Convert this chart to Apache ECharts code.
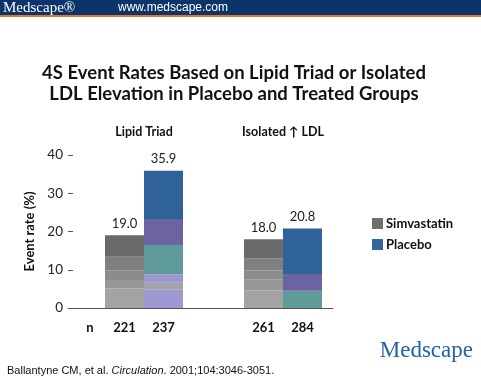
<!DOCTYPE html>
<html><head><meta charset="utf-8">
<script src="https://cdn.jsdelivr.net/npm/echarts@6/dist/echarts.min.js"></script>
<style>html,body{margin:0;padding:0;background:#fff}#c{width:481px;height:379px}</style>
</head><body><div id="c"></div>
<script>
const categories = ['Lipid Triad', 'Isolated \u2191 LDL'];
const simvTotals = [19.0, 18.0];
const placeboTotals = [35.9, 20.8];
const nSimv = [221, 261];
const nPlacebo = [237, 284];
const yTicks = [0, 10, 20, 30, 40];
// stacked colour bands, bottom to top, per group
const simvSegLipid = [5.1, 2.2, 2.6, 3.5, 5.6];
const simvSegLDL = [4.6, 2.9, 2.3, 3.2, 5.0];
const simvColors = ['#a3a3a3', '#979797', '#8c8c8c', '#808080', '#6a6a6a'];
const placSegLipid = [4.8, 1.8, 2.2, 7.7, 6.8, 12.6];
const placSegLDL = [4.5, 4.4, 0, 0, 0, 11.9];
const placColorsLipid = ['#9c98d2', '#a3a1ab', '#9d97d0', '#5f9c99', '#6b64a1', '#2f6298'];
const placColorsLDL = ['#5f9c99', '#6b64a1', '#6b64a1', '#6b64a1', '#6b64a1', '#2f6298'];

const font = 'Lato';
const series = [];
function addStack(name, stack, segA, segB, colA, colB, totals, ns) {
  segA.forEach((v, i) => {
    const last = i === segA.length - 1;
    const s = {
      name, type: 'bar', stack, xAxisIndex: 0, yAxisIndex: 0,
      barWidth: 39, barGap: '0%',
      data: [
        { value: segA[i], itemStyle: { color: colA[i] } },
        { value: segB[i], itemStyle: { color: colB[i] } }
      ],
      emphasis: { disabled: true }
    };
    if (last) {
      s.label = { show: true, position: 'top', distance: 5, fontFamily: font, fontSize: 13, color: '#222',
        formatter: p => totals[p.dataIndex].toFixed(1) };
    }
    if (i === 0) {
      s.label = { show: true, position: 'bottom', distance: 13, fontFamily: font, fontSize: 13, fontWeight: 'bold', color: '#111',
        formatter: p => String(ns[p.dataIndex]) };
    }
    series.push(s);
  });
}
addStack('Simvastatin', 'simv', simvSegLipid, simvSegLDL, simvColors, simvColors, simvTotals, nSimv);
addStack('Placebo', 'plac', placSegLipid, placSegLDL, placColorsLipid, placColorsLDL, placeboTotals, nPlacebo);
// axis-only series for grid 1
series.push({ type: 'line', xAxisIndex: 1, yAxisIndex: 1, data: [], silent: true });

const chart = echarts.init(document.getElementById('c'), null, { renderer: 'canvas' });
chart.setOption({
  animation: false,
  backgroundColor: '#fff',
  grid: [
    { left: 74.5, width: 278, top: 155, height: 153 },
    { left: 68, width: 265, top: 155, height: 153 }
  ],
  xAxis: [
    { type: 'category', gridIndex: 0, data: categories, position: 'top',
      axisLine: { show: false }, axisTick: { show: false },
      axisLabel: { margin: 17, fontFamily: font, fontSize: 12.5, fontWeight: 'bold', color: '#111' } },
    { type: 'value', gridIndex: 1, min: 0, max: 1, position: 'bottom',
      axisLine: { show: true, lineStyle: { color: '#555', width: 1 } },
      axisTick: { show: false }, axisLabel: { show: false }, splitLine: { show: false } }
  ],
  yAxis: [
    { type: 'value', gridIndex: 0, min: 0, max: 40, show: false },
    { type: 'value', gridIndex: 1, min: yTicks[0], max: yTicks[yTicks.length - 1], interval: 10,
      axisLine: { show: false },
      axisTick: { show: true, inside: true, length: 5, lineStyle: { color: '#555' } },
      splitLine: { show: false },
      axisLabel: { margin: 5, fontFamily: font, fontSize: 13.5, color: '#222' },
      name: 'Event rate (%)', nameLocation: 'middle', nameGap: 19,
      nameTextStyle: { fontFamily: font, fontSize: 13, fontWeight: 'bold', color: '#111' } }
  ],
  legend: {
    orient: 'vertical', left: 367, top: 212, itemWidth: 11, itemHeight: 11, itemGap: 8,
    icon: 'rect', selectedMode: false,
    textStyle: { fontFamily: font, fontSize: 13, fontWeight: 'bold', color: '#111', padding: [0, 0, 0, -2] },
    data: [
      { name: 'Simvastatin', itemStyle: { color: '#6e6e6e' } },
      { name: 'Placebo', itemStyle: { color: '#3465a0' } }
    ]
  },
  graphic: [
    { type: 'rect', shape: { x: 0, y: 0, width: 481, height: 15 }, style: { fill: '#0b346b' }, silent: true },
    { type: 'rect', shape: { x: 0, y: 15, width: 481, height: 2 }, style: { fill: '#e2772a' }, silent: true },
    { type: 'text', x: 3, y: 8, style: { text: 'Medscape\u00ae', fill: '#fff', font: '15px "Liberation Serif"', verticalAlign: 'middle' } },
    { type: 'text', x: 118, y: 8, style: { text: 'www.medscape.com', fill: '#fff', font: '12px "Liberation Sans"', verticalAlign: 'middle' } },
    { type: 'text', x: 234, y: 84, style: { text: '4S Event Rates Based on Lipid Triad or Isolated\nLDL Elevation in Placebo and Treated Groups',
      fill: '#111', font: 'bold 18.5px "Lato"', textAlign: 'center', verticalAlign: 'middle', lineHeight: 21 } },
    { type: 'text', x: 90, y: 328, style: { text: 'n', fill: '#111', font: 'bold 13px "Lato"', textAlign: 'center', verticalAlign: 'middle' } },
    { type: 'text', x: 7, y: 371, style: { text: '{a|Ballantyne CM, et al. }{b|Circulation}{a|. 2001;104:3046-3051.}',
      verticalAlign: 'middle',
      rich: { a: { font: '11px "Liberation Sans"', fill: '#111' }, b: { font: 'italic 11px "Liberation Sans"', fill: '#111' } } } },
    { type: 'text', x: 473, y: 351, style: { text: 'Medscape', fill: '#2462a6', font: '23px "Liberation Serif"', textAlign: 'right', verticalAlign: 'middle' } }
  ],
  series
});
</script></body></html>
